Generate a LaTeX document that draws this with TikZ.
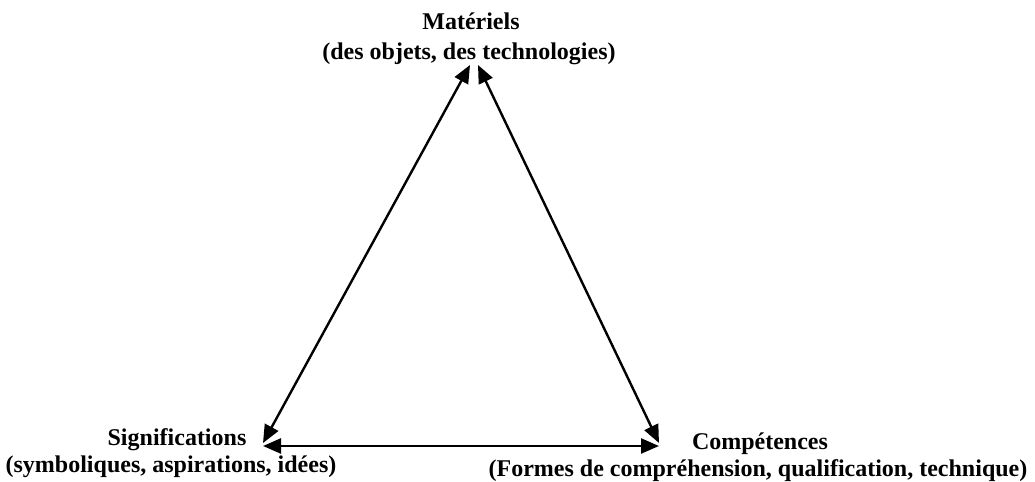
\documentclass[tikz,border=0pt]{standalone}
\usepackage{fontspec}
\setmainfont{Liberation Serif}
\usetikzlibrary{arrows.meta}

\begin{document}
\begin{tikzpicture}[x=0.5pt, y=-0.5pt,
		titre/.style = {font=\bfseries\fontsize{12}{14}\selectfont, anchor=base, inner sep=0pt},
		lien/.style = {{Triangle[length=9pt, width=7.5pt]}-{Triangle[length=9pt, width=7.5pt]}, line width=1.2pt}
	]
		\useasboundingbox (0,0) rectangle (1035,482);
		% sommets
		\node[titre] (mat) at (471,30) {Matériels};
		\node[titre] (matsub) at (469,60) {(des objets, des technologies)};
		\node[titre] (sig) at (177,445) {Significations};
		\node[titre] (sigsub) at (171,472) {(symboliques, aspirations, idées)};
		\node[titre] (comp) at (760,449) {Compétences};
		\node[titre] (compsub) at (758,476) {(Formes de compréhension, qualification, technique)};
		% extremites des fleches
		\coordinate (hautG) at (470,65);
		\coordinate (hautD) at (478,65);
		\coordinate (basG) at (263,443);
		\coordinate (basD) at (659,443);
		\coordinate (bas1) at (263,446);
		\coordinate (bas2) at (659,446);
		\draw[lien] (basG) -- (hautG);
		\draw[lien] (basD) -- (hautD);
		\draw[lien] (bas1) -- (bas2);
\end{tikzpicture}
\end{document}
